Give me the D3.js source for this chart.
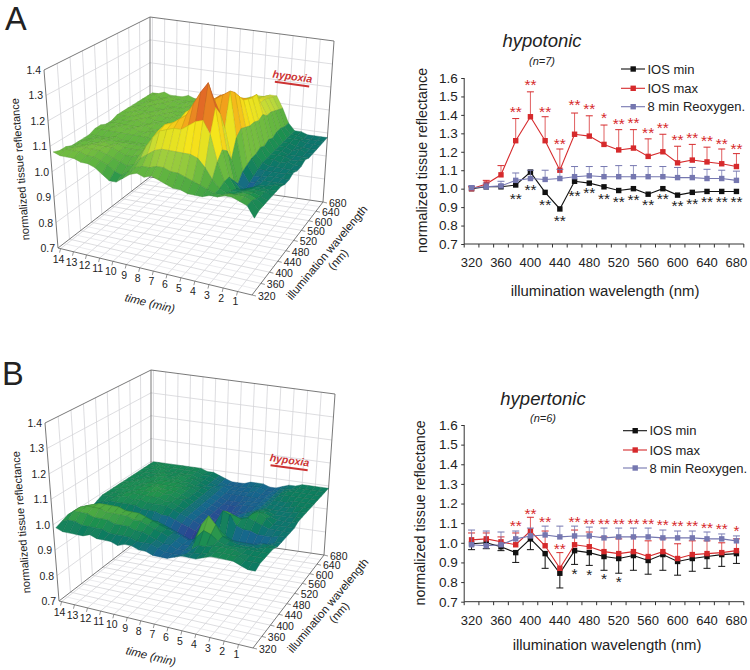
<!DOCTYPE html>
<html><head><meta charset="utf-8">
<script src="https://cdn.jsdelivr.net/npm/d3@7"></script>
<style>html,body{margin:0;padding:0;background:#fff}svg{display:block}text{font-family:"Liberation Sans",Arial,sans-serif;fill:#222}</style>
</head><body><svg id="c" width="750" height="670"><defs><filter id="soft" x="-5%" y="-5%" width="110%" height="110%"><feGaussianBlur stdDeviation="0.3"/></filter></defs></svg>
<script>
const wavelengths=d3.range(320,681,20);
const tickWavelengths=d3.range(320,681,40);
const minutes=d3.range(1,15);
const timeSteps=d3.range(14,-0.5,-0.5);
const zTicks=[0.7,0.8,0.9,1.0,1.1,1.2,1.3,1.4];
const lineTicks=[0.7,0.8,0.9,1.0,1.1,1.2,1.3,1.4,1.5,1.6];
// surfaces: one row per time step (14 ... 0 min), one column per wavelength, hundredths of reflectance
const surfaceA=[
[108,107,107,106,106,106,106,107,107,106,106,107,107,107,107,107,107,107,107],
[107,108,107,107,107,106,106,107,107,107,107,107,107,108,107,107,107,108,107],
[107,108,108,107,107,107,106,107,107,107,107,107,108,107,107,108,107,107,108],
[107,108,108,108,107,107,106,107,108,107,107,108,107,107,108,107,108,107,107],
[106,107,108,108,108,107,107,107,107,107,108,107,108,107,107,108,107,108,107],
[106,107,108,108,107,107,106,107,108,107,107,108,107,108,107,107,108,107,107],
[105,106,107,108,108,107,106,107,107,108,107,107,108,107,108,107,107,107,108],
[103,105,106,107,107,107,106,107,107,107,108,107,107,108,107,107,108,107,107],
[101,103,105,106,107,107,106,107,108,107,107,107,108,107,107,108,107,107,107],
[101,102,104,106,107,107,106,106,107,108,107,107,107,107,108,107,107,108,107],
[103,104,105,107,108,107,107,107,107,107,107,108,107,107,107,107,108,107,107],
[105,106,108,111,112,111,109,110,110,109,108,108,108,107,107,108,107,107,107],
[106,107,110,115,116,115,112,114,114,113,112,111,110,109,108,108,108,107,107],
[105,107,112,118,119,118,114,117,118,117,116,114,112,110,109,109,108,108,108],
[106,108,113,119,120,119,115,119,120,120,119,117,114,112,110,110,109,109,109],
[105,108,113,120,122,120,115,120,122,121,120,118,116,113,111,111,110,110,110],
[104,107,113,120,124,122,115,121,124,122,120,119,117,115,112,112,111,111,111],
[103,107,113,122,129,125,116,124,125,124,121,120,118,116,113,113,112,112,112],
[103,106,113,124,134,129,118,127,127,125,122,121,119,118,114,114,113,113,112],
[102,105,112,125,138,131,120,129,128,126,124,122,120,119,115,116,115,114,113],
[102,104,109,120,129,125,118,131,129,126,123,122,121,121,116,116,115,114,113],
[102,103,105,110,113,111,106,113,115,114,113,113,112,113,111,111,110,109,108],
[103,102,102,103,103,100,97,100,101,102,102,103,102,103,102,103,103,102,102],
[103,102,101,100,99,97,95,96,97,98,99,99,99,99,99,99,99,99,99],
[104,103,101,100,99,98,96,97,97,98,98,99,99,99,99,99,99,99,99],
[104,103,102,101,100,99,98,98,98,98,98,98,99,98,98,98,99,98,98],
[103,103,102,101,100,99,98,98,98,98,98,99,98,98,99,98,98,98,98],
[102,102,101,100,100,99,99,98,98,98,98,98,98,98,98,98,98,98,98],
[98,99,99,99,99,99,99,98,98,99,98,98,99,98,98,98,98,98,98]];
const surfaceB=[
[99,100,101,101,100,99,98,99,100,100,100,100,100,100,100,100,100,100,100],
[98,101,103,103,102,100,98,99,100,100,100,101,100,100,100,100,100,100,100],
[98,101,103,104,103,100,98,100,100,100,101,100,101,100,100,100,100,101,100],
[98,100,103,104,104,101,98,100,101,101,100,101,100,101,100,100,101,100,100],
[98,100,102,104,104,101,98,100,101,101,101,101,101,100,101,101,100,100,100],
[99,100,102,103,104,101,98,100,100,101,101,101,101,101,101,100,100,100,100],
[98,100,102,103,104,101,97,100,101,101,101,102,101,101,100,100,100,100,100],
[98,99,101,103,103,101,97,99,100,101,102,101,101,101,101,101,100,100,100],
[98,99,101,103,103,100,97,99,100,101,101,101,101,101,100,100,100,100,100],
[97,99,101,102,103,100,96,99,100,100,101,101,101,100,100,100,99,99,99],
[98,99,100,102,102,99,96,98,100,100,100,100,100,100,99,99,99,99,99],
[98,98,100,101,101,99,95,98,99,99,100,99,99,99,99,98,98,98,98],
[97,98,99,100,100,98,95,97,98,98,98,98,98,98,98,98,97,97,97],
[97,98,98,99,99,97,94,96,97,97,97,97,97,97,97,97,97,96,96],
[96,97,97,98,98,96,93,95,96,96,96,96,96,96,96,96,96,96,96],
[96,96,97,97,97,95,92,94,95,95,95,95,95,95,95,96,96,96,96],
[96,96,96,96,96,94,91,93,94,94,94,94,94,95,95,96,96,96,97],
[97,96,96,96,97,94,91,94,95,94,94,94,94,95,95,96,96,97,97],
[98,97,97,100,103,99,93,99,99,96,95,95,95,96,96,96,97,97,97],
[98,98,99,103,107,102,95,104,102,97,96,96,95,96,96,96,96,96,96],
[98,98,99,102,104,100,95,103,101,98,97,97,96,96,96,96,96,96,96],
[99,99,100,100,100,98,95,99,100,98,98,98,97,97,97,97,97,97,97],
[100,100,100,99,99,97,95,98,101,101,100,99,98,98,98,98,98,98,98],
[100,100,100,99,98,97,95,98,100,102,100,99,98,98,98,99,99,98,98],
[100,100,100,99,98,97,95,97,99,100,99,98,98,98,98,99,99,99,99],
[100,100,99,99,98,97,96,97,98,98,98,98,98,98,99,99,99,99,99],
[99,99,99,99,98,98,96,97,98,98,98,98,98,99,99,99,99,99,99],
[98,99,99,99,99,98,97,98,98,98,98,98,99,99,99,99,99,99,99],
[98,99,99,99,99,98,98,98,98,98,99,99,99,99,99,99,99,99,99]];
// line panels
const minA=[1.0,1.01,1.01,1.02,1.09,0.98,0.89,1.04,1.03,1.01,0.99,1.0,0.97,1.0,0.965,0.98,0.985,0.985,0.985];
const maxA=[1.0,1.025,1.075,1.26,1.39,1.26,1.10,1.295,1.285,1.24,1.21,1.22,1.175,1.20,1.14,1.155,1.145,1.135,1.12];
const maxUpA=[1.01,1.045,1.125,1.38,1.525,1.39,1.215,1.41,1.395,1.345,1.32,1.32,1.27,1.295,1.23,1.24,1.225,1.215,1.19];
const reoxA=[1.005,1.01,1.015,1.045,1.055,1.05,1.055,1.065,1.07,1.065,1.065,1.065,1.065,1.065,1.06,1.06,1.055,1.055,1.045];
const reoxUpA=[1.015,1.03,1.04,1.085,1.10,1.10,1.105,1.12,1.12,1.12,1.125,1.125,1.12,1.12,1.115,1.115,1.105,1.10,1.095];
const redStarsA=[null,null,null,1.426,1.571,1.426,1.255,1.463,1.444,1.394,1.36,1.369,1.312,1.341,1.273,1.287,1.269,1.251,1.227];
const redStarTextA=["","","","**","**","**","**","**","**","*","**","**","**","**","**","**","**","**","**"];
const blackStarsA=[null,null,null,0.956,1.005,0.925,0.835,0.969,0.987,0.953,0.938,0.947,0.92,0.953,0.915,0.929,0.938,0.938,0.938];
const blackStarTextA=["","","","**","**","**","**","**","**","**","**","**","**","**","**","**","**","**","**"];
const minB=[0.995,1.0,0.98,0.95,1.02,0.945,0.845,0.96,0.95,0.93,0.92,0.935,0.91,0.94,0.905,0.92,0.93,0.94,0.945];
const minLoB=[0.965,0.97,0.96,0.90,0.965,0.87,0.77,0.89,0.885,0.86,0.845,0.86,0.84,0.86,0.835,0.855,0.87,0.88,0.895];
const maxB=[1.015,1.02,1.005,0.99,1.06,0.985,0.87,0.99,0.98,0.955,0.945,0.955,0.93,0.955,0.92,0.94,0.945,0.95,0.96];
const maxUpB=[1.05,1.05,1.03,1.05,1.13,1.06,0.95,1.065,1.055,1.03,1.02,1.03,1.01,1.02,0.995,1.01,1.01,1.0,1.02];
const reoxB=[0.99,0.985,0.99,1.02,1.035,1.04,1.03,1.035,1.035,1.025,1.03,1.03,1.03,1.025,1.025,1.025,1.02,1.02,1.01];
const reoxUpB=[1.065,1.06,1.055,1.06,1.075,1.085,1.085,1.085,1.08,1.075,1.075,1.075,1.075,1.065,1.06,1.06,1.055,1.045,1.035];
const redStarsB=[null,null,null,1.096,1.159,1.116,0.98,1.116,1.108,1.108,1.108,1.108,1.108,1.10,1.094,1.097,1.087,1.082,1.069];
const redStarTextB=["","","","**","**","**","**","**","**","**","**","**","**","**","**","**","**","**","*"];
const blackStarsB=[null,null,null,null,null,null,null,0.853,0.848,0.824,0.809,null,null,null,null,null,null,null,null];
const blackStarTextB=["","","","","","","","*","*","*","*","","","","","","","",""];
const legendNames=["IOS min","IOS max","8 min Reoxygen."];

const RED="#d62a2c",BLK="#111",BLU="#7577b0";
const svg=d3.select("#c");

const surfColor=d3.scaleLinear()
 .domain([0.90,0.94,0.965,0.985,1.01,1.03,1.07,1.12,1.18,1.24,1.31,1.40])
 .range(["#2a2f85","#2c4a94","#15688c","#0e7a62","#1f9050","#4aa843","#68b840","#b8d83c","#f5e51a","#f3a51c","#e0642a","#c9302a"])
 .interpolate(d3.interpolateRgb).clamp(true);

function panel3D(g,data,hyp){
 const c={l:[58,248],f:[252,295],r:[323,202],b:[150,177]};
 const h={l:[-14,-178],f:[6,-192],r:[11,-161],b:[0,-160]};
 const tS=d3.scaleLinear().domain([14.2,0]).range([0,1]);
 const wS=d3.scaleLinear().domain([320,680]).range([0,1]);
 const zS=d3.scaleLinear().domain([0.7,1.4]).range([0,1]);
 const kT=0.065,kW=0.138;
 function P(t,w,z){
  const s=tS(t),q=wS(w);
  const u=s/(1+kT*(1-s)),v=1-(1-q)/(1+kW*q);
  const bl=(a,b,d,e)=>(1-u)*(1-v)*a+u*(1-v)*b+u*v*d+(1-u)*v*e;
  const k=zS(z);
  return [bl(c.l[0],c.f[0],c.r[0],c.b[0])+bl(h.l[0],h.f[0],h.r[0],h.b[0])*k,
          bl(c.l[1],c.f[1],c.r[1],c.b[1])+bl(h.l[1],h.f[1],h.r[1],h.b[1])*k];
 }
 const line=(a,b,col,wd)=>g.append("line").attr("x1",a[0]).attr("y1",a[1]).attr("x2",b[0]).attr("y2",b[1]).attr("stroke",col).attr("stroke-width",wd);
 const GR="#d4d4d8";
 const T0=14.2,T1=0,W0=320,W1=680,Zb=0.7,Zt=1.4;
 zTicks.slice(1,-1).forEach(z=>{line(P(T0,W0,z),P(T0,W1,z),GR,.8);line(P(T0,W1,z),P(T1,W1,z),GR,.8);});
 tickWavelengths.slice(1,-1).forEach(w=>{line(P(T0,w,Zb),P(T0,w,Zt),GR,.8);line(P(T0,w,Zb),P(T1,w,Zb),GR,.8);});
 minutes.forEach(t=>{line(P(t,W1,Zb),P(t,W1,Zt),GR,.8);line(P(t,W0,Zb),P(t,W1,Zb),GR,.8);});
 wavelengths.filter(w=>!tickWavelengths.includes(w)).forEach(w=>{line(P(T0,w,Zb),P(T1,w,Zb),"#e2e2e6",.7);});
 const E="#6a6a6a";
 [[[T0,W0,Zb],[T0,W0,Zt]],[[T0,W1,Zb],[T0,W1,Zt]],[[T1,W1,Zb],[T1,W1,Zt]],
  [[T0,W0,Zt],[T0,W1,Zt]],[[T0,W1,Zt],[T1,W1,Zt]],
  [[T0,W0,Zb],[T1,W0,Zb]],[[T1,W0,Zb],[T1,W1,Zb]],[[T0,W0,Zb],[T0,W1,Zb]],[[T0,W1,Zb],[T1,W1,Zb]]]
 .forEach(([a,b])=>line(P(...a),P(...b),E,.9));
 minutes.forEach(t=>{const a=P(t,W0,Zb);line(a,[a[0]-1,a[1]+4],E,.7);});
 tickWavelengths.forEach(w=>{const a=P(T1,w,Zb);line(a,[a[0]+4,a[1]+1],E,.7);});
 const surf=g.append("g").attr("filter","url(#soft)");
 const wl=wavelengths;
 for(let j=wl.length-2;j>=0;j--){
  for(let i=0;i<timeSteps.length-1;i++){
   const zs=[data[i][j],data[i+1][j],data[i+1][j+1],data[i][j+1]].map(d=>d/100);
   const pts=[P(timeSteps[i],wl[j],zs[0]),P(timeSteps[i+1],wl[j],zs[1]),P(timeSteps[i+1],wl[j+1],zs[2]),P(timeSteps[i],wl[j+1],zs[3])];
   const col=surfColor(d3.mean(zs));
   surf.append("path").attr("d","M"+pts.map(p=>p[0].toFixed(2)+","+p[1].toFixed(2)).join("L")+"Z")
    .attr("fill",col).attr("stroke",d3.rgb(col).darker(.55)).attr("stroke-width",.4).attr("stroke-linejoin","round");
  }
 }
 const txt=(x,y,s,size,anchor)=>g.append("text").attr("x",x).attr("y",y).attr("font-size",size).attr("text-anchor",anchor||"start").text(s);
 zTicks.forEach(z=>{const p=P(T0,W0,z);txt(p[0]-3,p[1]+4,z.toFixed(1),10.5,"end");});
 minutes.forEach(t=>{const p=P(t,W0,Zb);txt(p[0]-2,p[1]+14,String(t),10.5,"middle");});
 tickWavelengths.forEach(w=>{const p=P(T1,w,Zb);txt(p[0]+6,p[1]+5,String(w),10.5,"start");});
 const rot=(x,y,s,size,a,st,fw)=>{const e=g.append("text").attr("transform",`translate(${x},${y}) rotate(${a})`).attr("text-anchor","middle").attr("font-size",size).text(s);if(st)e.attr("font-style",st);if(fw)e.attr("font-weight",fw);return e;};
 rot(24,169,"normalized tissue reflectance",11,-94.5);
 rot(149,307,"time (min)",11.5,13.5,"italic");
 rot(330,255,"illumination wavelength",11.5,-50);
 rot(341,262,"(nm)",11.5,-48);
 const a=P(hyp.t0,W1,hyp.z),b=P(hyp.t1,W1,hyp.z);
 line(a,b,"#cc3333",2);
 const mid=[(a[0]+b[0])/2,(a[1]+b[1])/2-4];
 rot(mid[0],mid[1],"hypoxia",10.5,Math.atan2(b[1]-a[1],b[0]-a[0])*180/Math.PI,"italic","bold").style("fill","#cc3333");
}

function panelLines(g,o){
 const x=d3.scaleBand().domain(wavelengths).range([o.left,o.left+279.6]);
 const y=d3.scaleLinear().domain([0.7,1.6]).range([o.bottom,o.top]);
 const cx=d=>x(d)+x.bandwidth()/2;
 const AX="#333";
 const ya=g.append("g").attr("transform",`translate(${o.left},0)`).call(d3.axisLeft(y).tickValues(lineTicks).tickFormat(d3.format(".1f")).tickSize(3).tickPadding(3.5));
 const xb=d3.range(0,20).map(i=>o.left+i*x.bandwidth());
 g.append("line").attr("x1",o.left).attr("x2",o.left+279.6).attr("y1",o.bottom).attr("y2",o.bottom).attr("stroke",AX);
 xb.forEach(v=>g.append("line").attr("x1",v).attr("x2",v).attr("y1",o.bottom).attr("y2",o.bottom+3.5).attr("stroke",AX));
 ya.selectAll("path,line").attr("stroke",AX);ya.select(".domain").attr("d",`M${0},${o.top}V${o.bottom}`);
 ya.selectAll("text").attr("font-size",13.5).style("font-family",'"Liberation Sans"').style("fill","#222");
 wavelengths.forEach(w=>{if(tickWavelengths.includes(w))g.append("text").attr("x",cx(w)).attr("y",o.bottom+23).attr("text-anchor","middle").attr("font-size",13).text(w);});
 g.append("text").attr("transform",`translate(${o.yTitleX},${(o.top+o.bottom)/2-.5}) rotate(-90)`).attr("text-anchor","middle").attr("font-size",14.3).text("normalized tissue reflectance");
 g.append("text").attr("x",o.xTitleX).attr("y",o.xTitleY).attr("text-anchor","middle").attr("font-size",14.9).text("illumination wavelength (nm)");
 g.append("text").attr("x",o.titleX).attr("y",o.titleY).attr("text-anchor","middle").attr("font-size",18.5).attr("font-style","italic").text(o.title);
 g.append("text").attr("x",o.titleX).attr("y",o.nY).attr("text-anchor","middle").attr("font-size",11).attr("font-style","italic").text(o.n);
 const bars=(from,to,col)=>wavelengths.forEach((w,i)=>{
  g.append("line").attr("x1",cx(w)).attr("x2",cx(w)).attr("y1",y(from[i])).attr("y2",y(to[i])).attr("stroke",col).attr("stroke-width",1).attr("opacity",col===BLK?1:.75);
  g.append("line").attr("x1",cx(w)-3.5).attr("x2",cx(w)+3.5).attr("y1",y(to[i])).attr("y2",y(to[i])).attr("stroke",col).attr("stroke-width",1);
 });
 const series=(vals,col)=>{
  g.append("path").datum(vals).attr("fill","none").attr("stroke",col).attr("stroke-width",1.1)
   .attr("d",d3.line().x((d,i)=>cx(wavelengths[i])).y(d=>y(d)));
  g.selectAll(null).data(vals).enter().append("rect").attr("x",(d,i)=>cx(wavelengths[i])-2.7).attr("y",d=>y(d)-2.7).attr("width",5.4).attr("height",5.4).attr("fill",col);
 };
 if(o.minLo)bars(o.min,o.minLo,BLK);
 series(o.min,BLK);
 bars(o.max,o.maxUp,RED);series(o.max,RED);
 bars(o.reox,o.reoxUp,BLU);series(o.reox,BLU);
 const stars=(lv,tx,col)=>lv.forEach((v,i)=>{if(v==null)return;g.append("text").attr("x",cx(wavelengths[i])).attr("y",y(v)+7).attr("text-anchor","middle").attr("font-size",15.5).style("fill",col).text(tx[i]);});
 stars(o.redStars,o.redText,RED);stars(o.blackStars,o.blackText,"#222");
 legendNames.forEach((n,i)=>{
  const col=[BLK,RED,BLU][i],ly=o.legY[i];
  g.append("line").attr("x1",o.legX).attr("x2",o.legX+24).attr("y1",ly).attr("y2",ly).attr("stroke",col).attr("stroke-width",1.1);
  g.append("rect").attr("x",o.legX+9.5).attr("y",ly-2.7).attr("width",5.4).attr("height",5.4).attr("fill",col);
  g.append("text").attr("x",o.legX+26.5).attr("y",ly+4.5).attr("font-size",13).text(n);
 });
}

svg.append("text").attr("x",5).attr("y",29.5).attr("font-size",32.5).text("A");
svg.append("text").attr("x",2).attr("y",385).attr("font-size",32.5).text("B");
panel3D(svg.append("g"),surfaceA,{t0:4.2,t1:1.6,z:1.19});
panel3D(svg.append("g").attr("transform","translate(1,353)"),surfaceB,{t0:4.5,t1:1.65,z:1.055});
panelLines(svg.append("g"),{left:464.2,top:78,bottom:244,min:minA,max:maxA,maxUp:maxUpA,reox:reoxA,reoxUp:reoxUpA,
 redStars:redStarsA,redText:redStarTextA,blackStars:blackStarsA,blackText:blackStarTextA,
 yTitleX:427,xTitleX:605,xTitleY:296,title:"hypotonic",titleX:542,titleY:47,n:"(n=7)",nY:65,legX:621,legY:[69,88.3,106.7]});
panelLines(svg.append("g"),{left:464.2,top:425,bottom:601.7,min:minB,minLo:minLoB,max:maxB,maxUp:maxUpB,reox:reoxB,reoxUp:reoxUpB,
 redStars:redStarsB,redText:redStarTextB,blackStars:blackStarsB,blackText:blackStarTextB,
 yTitleX:425,xTitleX:607,xTitleY:650,title:"hypertonic",titleX:543,titleY:405,n:"(n=6)",nY:422,legX:623,legY:[430.7,450,468]});
</script></body></html>
